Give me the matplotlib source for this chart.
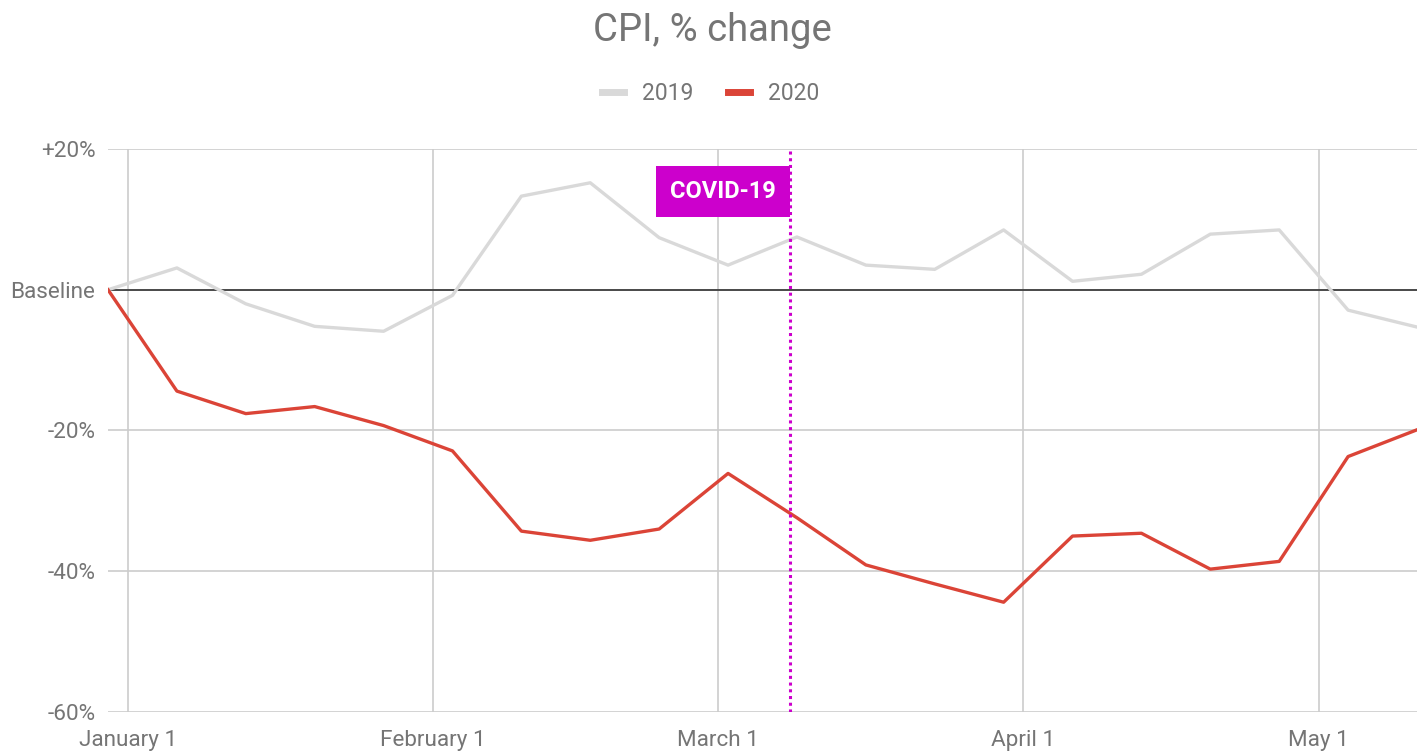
import matplotlib
matplotlib.use("Agg")
import matplotlib.pyplot as plt
import pandas as pd

plt.rcParams["font.family"] = ["Roboto", "DejaVu Sans"]

# weekly points, Dec 30 2019 .. May 11 2020
weeks = pd.date_range("2019-12-30", periods=20, freq="7D")

cpi_2019 = [0.0, 3.1, -2.0, -5.2, -5.9, -0.8, 13.3, 15.2, 7.4, 3.5,
            7.5, 3.5, 2.9, 8.5, 1.2, 2.2, 7.9, 8.5, -2.9, -5.3]
cpi_2020 = [0.0, -14.4, -17.6, -16.6, -19.3, -22.9, -34.3, -35.6, -34.0, -26.1,
            -32.4, -39.1, -41.8, -44.4, -35.0, -34.6, -39.7, -38.6, -23.7, -19.9]

month_ticks = pd.to_datetime(["2020-01-01", "2020-02-01", "2020-03-01",
                              "2020-04-01", "2020-05-01"])
month_labels = ["January 1", "February 1", "March 1", "April 1", "May 1"]

y_ticks = [20, 0, -20, -40, -60]
y_labels = ["+20%", "Baseline", "-20%", "-40%", "-60%"]

covid_date = pd.Timestamp("2020-03-08 08:00")
covid_label = "COVID-19"

GRAY_TXT = "#757575"
C2019 = "#d9d9d9"
C2020 = "#db4437"
MAGENTA = "#cc00cc"

fig = plt.figure(figsize=(14.24, 7.51), dpi=100)
ax = fig.add_axes([108 / 1424, 1 - 712 / 751, (1417 - 108) / 1424, (712 - 149) / 751])

ax.plot(weeks, cpi_2019, color=C2019, lw=2.4, label="2019", zorder=3)
ax.plot(weeks, cpi_2020, color=C2020, lw=2.4, label="2020", zorder=4)
ax.axhline(0, color="#333333", lw=1.2, zorder=2)

ax.axvline(covid_date, color=MAGENTA, lw=2.2, ls=(0, (1, 1.2)), zorder=5)
ax.annotate(covid_label, xy=(covid_date, 14), xytext=(-10.5, 0),
            textcoords="offset points", ha="right", va="center",
            color="white", fontsize=17, fontweight="bold", zorder=6,
            bbox=dict(boxstyle="square,pad=0.6", fc=MAGENTA, ec="none"))

ax.set_xlim(weeks[0], weeks[-1])
ax.set_ylim(-60, 20)
ax.set_xticks(month_ticks)
ax.set_xticklabels(month_labels)
ax.set_yticks(y_ticks)
ax.set_yticklabels(y_labels)
ax.tick_params(axis="both", length=0, labelsize=16.2, colors=GRAY_TXT)
ax.tick_params(axis="x", pad=13)
ax.tick_params(axis="y", pad=9)
ax.grid(True, color="#cccccc", lw=1.2, zorder=0)
for s in ax.spines.values():
    s.set_visible(False)

fig.text(0.5, 1 - 41 / 751, "CPI, % change", ha="center", va="baseline",
         fontsize=27.5, color=GRAY_TXT)
fig.legend(loc="center", bbox_to_anchor=(711 / 1424, 1 - 93 / 751), ncol=2,
           frameon=False, fontsize=16.5, labelcolor=GRAY_TXT,
           handlelength=0.95, handletextpad=0.8, columnspacing=1.5,
           handleheight=0.5)
for line in fig.legends[0].get_lines():
    line.set_linewidth(5)

fig.savefig("out.png", dpi=100)
